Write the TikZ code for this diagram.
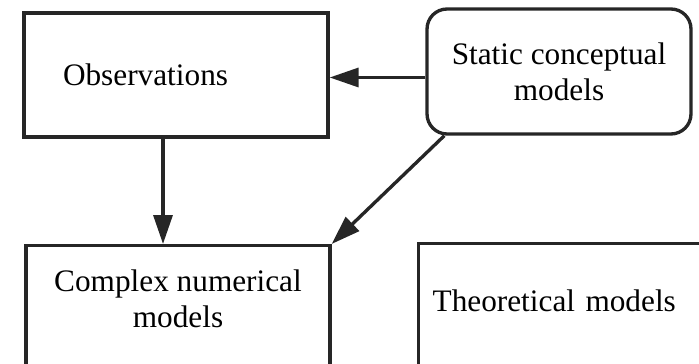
\documentclass[tikz,border=0pt]{standalone}
\usepackage{fontspec}
\setmainfont{Liberation Serif}
\usetikzlibrary{arrows.meta}
\tikzset{
  box/.style={draw=black!85, line width=1.9pt, inner sep=0pt, font=\fontsize{17.8}{20.5}\selectfont},
  kobs/.style={box, minimum width=6.08cm, minimum height=2.48cm, text width=4.52cm, align=left},
  kstat/.style={box, rounded corners=0.4cm, minimum width=5.28cm, minimum height=2.5cm, align=center},
  kcomp/.style={box, anchor=north, minimum width=6.08cm, minimum height=3cm, align=center, text height=1.16cm, text depth=0.88cm},
  ktheo/.style={box, anchor=north west, inner xsep=0.28cm, text width=5.44cm, minimum height=3cm, align=left, text height=0.42cm, text depth=0.72cm},
  flow/.style={-{Triangle[length=5.8mm, width=3.8mm]}, line width=1.9pt, draw=black!85},
}

\begin{document}
\begin{tikzpicture}[x=0.02cm, y=-0.02cm]
    \useasboundingbox (0,0) rectangle (699,364);
    \clip (0,0) rectangle (699,364);
    \node[kobs] (obs) at (176,75) {Observations};
    \node[kstat] (stat) at (559,71.5) {Static conceptual\\models};
    \node[kcomp] (comp) at (178,244) {Complex numerical\\models};
    \node[ktheo] (theo) at (417,242) {Theoretical models};
    \draw[flow] ([yshift=-1.2mm]stat.west) -- ([yshift=-1.2mm]stat.west -| obs.east);
    \draw[flow] ([xshift=-2.6mm]obs.south) -- ([xshift=-2.6mm]obs.south |- comp.north);
    \draw[flow] ([xshift=3.8mm]stat.south west) -- (comp.north east);
  \end{tikzpicture}
\end{document}
